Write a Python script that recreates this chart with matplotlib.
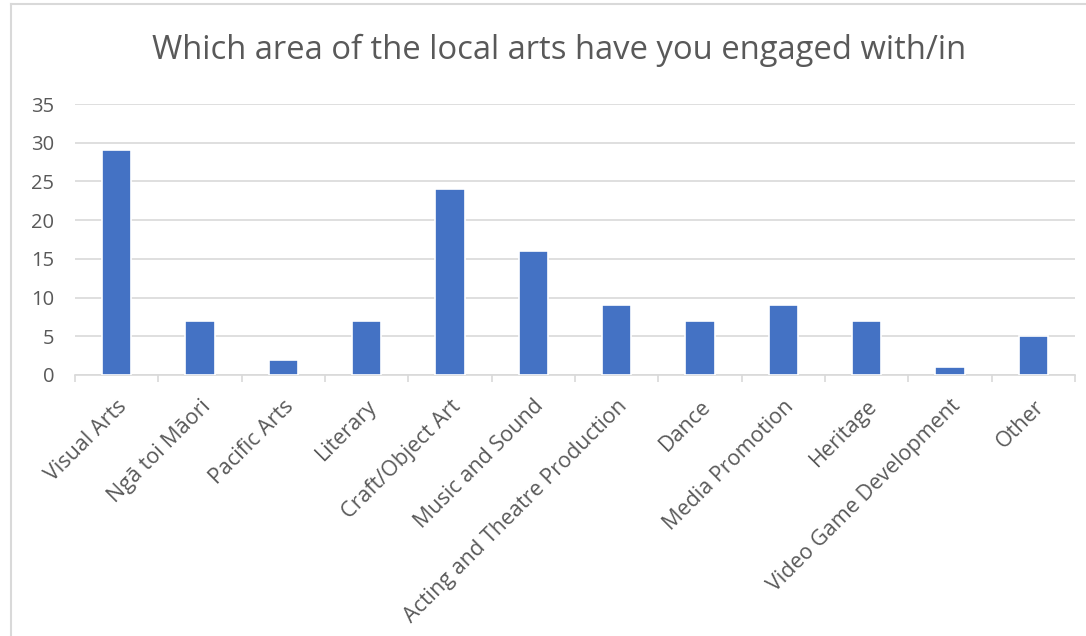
import matplotlib
matplotlib.use("Agg")
import matplotlib.pyplot as plt
from matplotlib.lines import Line2D
import numpy as np

categories = ["Visual Arts", "Ngā toi Māori", "Pacific Arts", "Literary", "Craft/Object Art",
              "Music and Sound", "Acting and Theatre Production", "Dance", "Media Promotion",
              "Heritage", "Video Game Development", "Other"]
values = [29, 7, 2, 7, 24, 16, 9, 7, 9, 7, 1, 5]
yticks = [0, 5, 10, 15, 20, 25, 30, 35]
title = "Which area of the local arts have you engaged with/in"

plt.rcParams['font.family'] = ['Open Sans', 'DejaVu Sans']
W, H = 1086, 636
fig = plt.figure(figsize=(W/100, H/100), dpi=100)
ax = fig.add_axes([75/W, 1-375/H, 1000/W, (375-104)/H])

text_c = "#595959"
grid_c = "#d9d9d9"
x = np.arange(len(categories))
ax.bar(x, values, width=0.355, color="#4472C4", edgecolor="white", linewidth=1.2, zorder=3)
ax.set_xlim(-0.5, len(categories)-0.5)
ax.set_ylim(0, 35)
ax.set_yticks(yticks)
ax.yaxis.grid(True, color=grid_c, linewidth=1.2, zorder=0)
ax.set_axisbelow(True)
for s in ["top", "right", "left"]:
    ax.spines[s].set_visible(False)
ax.spines["bottom"].set_color(grid_c)
ax.spines["bottom"].set_linewidth(1.2)
ax.tick_params(axis="y", length=0, pad=15, labelsize=14.5, labelcolor=text_c)
ax.set_xticks(x)
ax.set_xticklabels(categories, rotation=45, ha="right", rotation_mode="anchor",
                   fontsize=15.5, color=text_c)
ax.tick_params(axis="x", which="major", length=0, pad=15)
ax.set_xticks(np.arange(-0.5, len(categories)), minor=True)
ax.tick_params(axis="x", which="minor", length=5, color=grid_c, width=1.2)

fig.text(559/W, 1-50/H, title, ha="center", va="center", fontsize=23.6, color=text_c)

# chart frame
fig.add_artist(Line2D([11/W, 11/W], [0, 1-4/H], color=grid_c, linewidth=1.5, transform=fig.transFigure))
fig.add_artist(Line2D([11/W, 1], [1-4/H, 1-4/H], color=grid_c, linewidth=1.5, transform=fig.transFigure))

fig.savefig("out.png", dpi=100, facecolor="white")
